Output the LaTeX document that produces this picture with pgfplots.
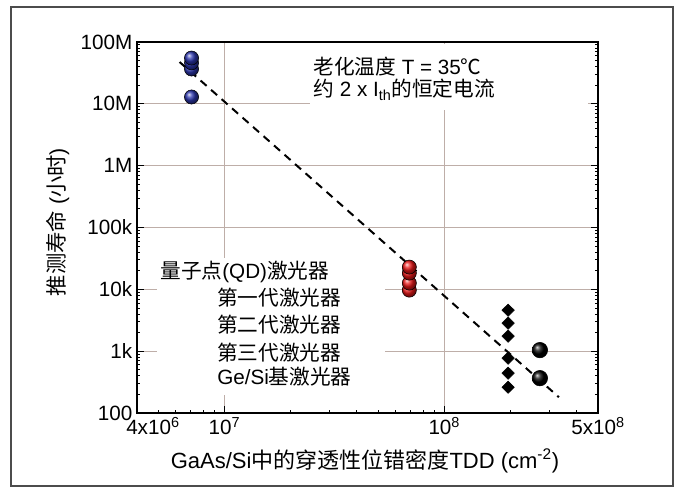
\documentclass[border=0pt]{standalone}
\usepackage{fontspec}
\setmainfont{Liberation Sans}
\newfontfamily\cjk{Noto Sans CJK SC}
\usepackage{pgfplots}
\pgfplotsset{compat=1.18}
\definecolor{gridc}{RGB}{190,174,168}
\definecolor{qdblue}{RGB}{45,55,175}
\definecolor{qdred}{RGB}{235,25,25}
\begin{document}
\begin{tikzpicture}
\path[use as bounding box] (-102.75pt,-56.25pt) rectangle (406.5pt,309.75pt);
\draw[color=black!70, line width=1.1pt] (-94.5pt,-54.75pt) rectangle (402pt,304.5pt);
\begin{axis}[
  xmode=log, ymode=log, scale only axis,
  width=345.75pt, height=278.25pt,
  at={(0pt,0pt)}, anchor=south west,
  xmin=4e6, xmax=5e8, ymin=100, ymax=1e8,
  xtick={4e6,1e7,1e8,5e8},
  xticklabels={\hspace*{24pt}4x10\textsuperscript{6},10\textsuperscript{7},10\textsuperscript{8},5x10\textsuperscript{8}},
  minor xtick={5e6,6e6,7e6,8e6,9e6,2e7,3e7,4e7,5e7,6e7,7e7,8e7,9e7,2e8,3e8,4e8},
  ytick={1e2,1e3,1e4,1e5,1e6,1e7,1e8},
  yticklabels={100,1k,10k,100k,1M,10M,100M},
  minor ytick={200,300,400,500,600,700,800,900,2000,3000,4000,5000,6000,7000,8000,9000,20000,30000,40000,50000,60000,70000,80000,90000,2e5,3e5,4e5,5e5,6e5,7e5,8e5,9e5,2e6,3e6,4e6,5e6,6e6,7e6,8e6,9e6,2e7,3e7,4e7,5e7,6e7,7e7,8e7,9e7},
  xtick pos=left, ytick pos=both,
  tick align=inside,
  major tick length=5pt, minor tick length=2.5pt,
  xmajorgrids, ymajorgrids,
  major grid style={gridc, line width=0.9pt},
  axis line style={line width=1.1pt},
  tick style={black, line width=0.6pt},
  ticklabel style={font=\fontsize{15.5}{18}\selectfont},
  clip=false,
]
% white boxes
\fill[white] (rel axis cs:0.375,0.817) rectangle (rel axis cs:0.978,0.995);
\fill[white] (rel axis cs:0.043,0.0485) rectangle (rel axis cs:0.538,0.418);
% fit line
\addplot[black, line width=1.5pt, dash pattern=on 6pt off 4.5pt] coordinates {(6.25e6,4.74e7) (3.32e8,180)};
% first generation (blue)
\addplot[only marks, mark=ball, mark size=5.3pt, mark options={ball color=qdblue}] coordinates {
(7.08e6,1.29e7) (7.08e6,3.66e7) (7.08e6,4.6e7) (7.08e6,5.5e7)};
% second generation (red)
\addplot[only marks, mark=ball, mark size=5.3pt, mark options={ball color=qdred}] coordinates {
(6.93e7,9700) (6.93e7,12600) (6.93e7,18300) (6.93e7,22900)};
% third generation (black diamonds)
\addplot[only marks, mark=diamond*, mark size=4.6pt, black, mark options={xscale=1.35}] coordinates {
(1.95e8,4600) (1.95e8,2840) (1.95e8,1750) (1.95e8,771) (1.95e8,441) (1.95e8,261)};
% Ge/Si
\addplot[only marks, mark=ball, mark size=5.8pt, mark options={ball color=black}] coordinates {
(2.72e8,1040) (2.72e8,366)};
% annotation
\node[anchor=west, inner sep=0pt, font=\fontsize{15.5}{18}\selectfont] at (rel axis cs:0.382,0.933) {{\cjk 老化温度} T = 35{\cjk ℃}};
\node[anchor=west, inner sep=0pt, font=\fontsize{15.5}{18}\selectfont] at (rel axis cs:0.382,0.871) {{\cjk 约} 2 x I\textsubscript{th}{\cjk 的恒定电流}};
% legend text
\node[anchor=west, inner sep=0pt, font=\fontsize{15.5}{18}\selectfont] at (rel axis cs:0.05,0.380) {{\cjk 量子点}(QD){\cjk 激光器}};
\node[anchor=west, inner sep=0pt, font=\fontsize{15.5}{18}\selectfont] at (rel axis cs:0.1735,0.310) {{\cjk 第一代激光器}};
\node[anchor=west, inner sep=0pt, font=\fontsize{15.5}{18}\selectfont] at (rel axis cs:0.1735,0.237) {{\cjk 第二代激光器}};
\node[anchor=west, inner sep=0pt, font=\fontsize{15.5}{18}\selectfont] at (rel axis cs:0.1735,0.164) {{\cjk 第三代激光器}};
\node[anchor=west, inner sep=0pt, font=\fontsize{15.5}{18}\selectfont] at (rel axis cs:0.1735,0.097) {Ge/Si{\cjk 基激光器}};
\end{axis}
\node[rotate=90, font=\fontsize{16}{19}\selectfont] at (-59.25pt,143.25pt) {{\cjk 推测寿命} ({\cjk 小时})};
\node[font=\fontsize{16.5}{19}\selectfont] at (171pt,-36pt) {GaAs/Si{\cjk 中的穿透性位错密度}TDD (cm\textsuperscript{-2})};
\end{tikzpicture}
\end{document}
